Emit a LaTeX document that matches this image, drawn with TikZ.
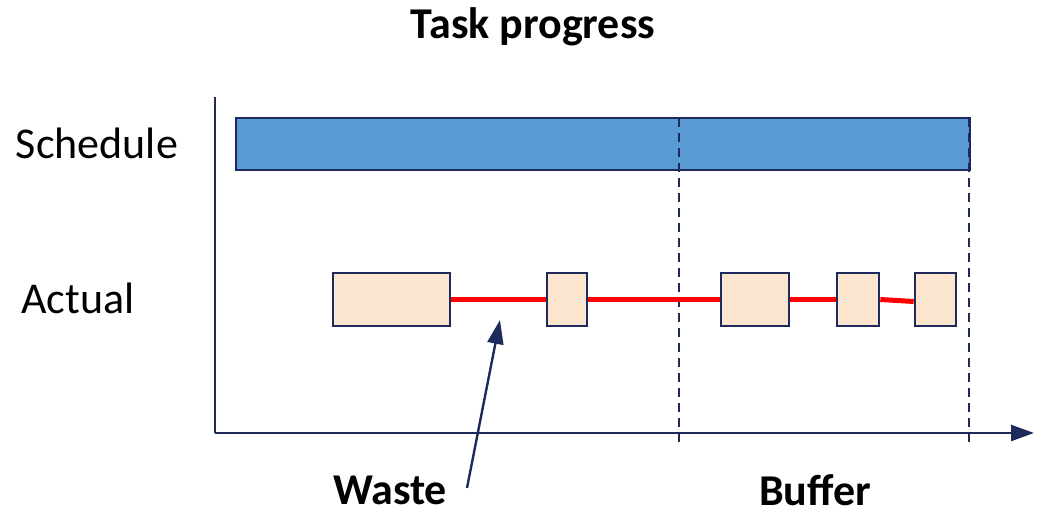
\documentclass[tikz,border=0pt]{standalone}
\usepackage{fontspec}
\setmainfont{Carlito}
\usetikzlibrary{arrows.meta}
\definecolor{navy}{HTML}{1F2A5C}
\definecolor{barblue}{HTML}{5B9BD5}
\definecolor{peach}{HTML}{FBE5CE}
\tikzset{
  task/.style={draw=navy, fill=peach, line width=1.3pt, inner sep=0pt, minimum height=26.5pt},
  gap/.style={red, line width=2.5pt},
  limit/.style={navy, line width=1.2pt, dash pattern=on 4.5pt off 3pt},
  lbl/.style={font=\fontsize{22}{26}\selectfont, inner sep=1pt},
  blbl/.style={font=\fontsize{22}{26}\selectfont\bfseries, inner sep=1pt}
}
\begin{document}
\begin{tikzpicture}[x=0.5pt, y=-0.5pt]
        \useasboundingbox (0,0) rectangle (1040,508);
        % axes
        \draw[navy, line width=1.2pt] (215,97) -- (215,433);
        \draw[navy, line width=1.2pt, -{Triangle[length=11.5pt,width=8pt]}] (215,433) -- (1034,433);
        % planned bar
        \node[draw=navy, fill=barblue, line width=1.3pt, inner sep=0pt, minimum width=367pt, minimum height=26pt] (plan) at (603,144) {};
        % buffer limits
        \draw[limit] (679,118) -- (679,448);
        \draw[limit] (969,118) -- (969,448);
        % actual work
        \node[task, minimum width=58.5pt] (w1) at (391.5,299.5) {};
        \node[task, minimum width=20pt] (w2) at (567,299.5) {};
        \node[task, minimum width=34pt] (w3) at (755,299.5) {};
        \node[task, minimum width=21pt] (w4) at (858,299.5) {};
        \node[task, minimum width=20.5pt] (w5) at (935.5,299.5) {};
        \draw[gap] (w1.east) -- (w2.west);
        \draw[gap] (w2.east) -- (w3.west);
        \draw[gap] (w3.east) -- (w4.west);
        \draw[gap] (w4.east) -- ([yshift=-1pt]w5.west);
        % labels
        \node[blbl] (title) at (533,27) {Task progress};
        \node[lbl] (sched) at (97,143) {Schedule};
        \node[lbl] (act) at (78,298) {Actual};
        \node[blbl] (waste) at (390,490) {Waste};
        \node[blbl] (buffer) at (815,490) {Buffer};
        \coordinate (wtail) at (467,488);
        \coordinate (wtip) at (500,320);
        \draw[navy, line width=1.2pt, -{Triangle[length=12pt,width=8pt]}] (wtail) -- (wtip);
      \end{tikzpicture}
\end{document}
